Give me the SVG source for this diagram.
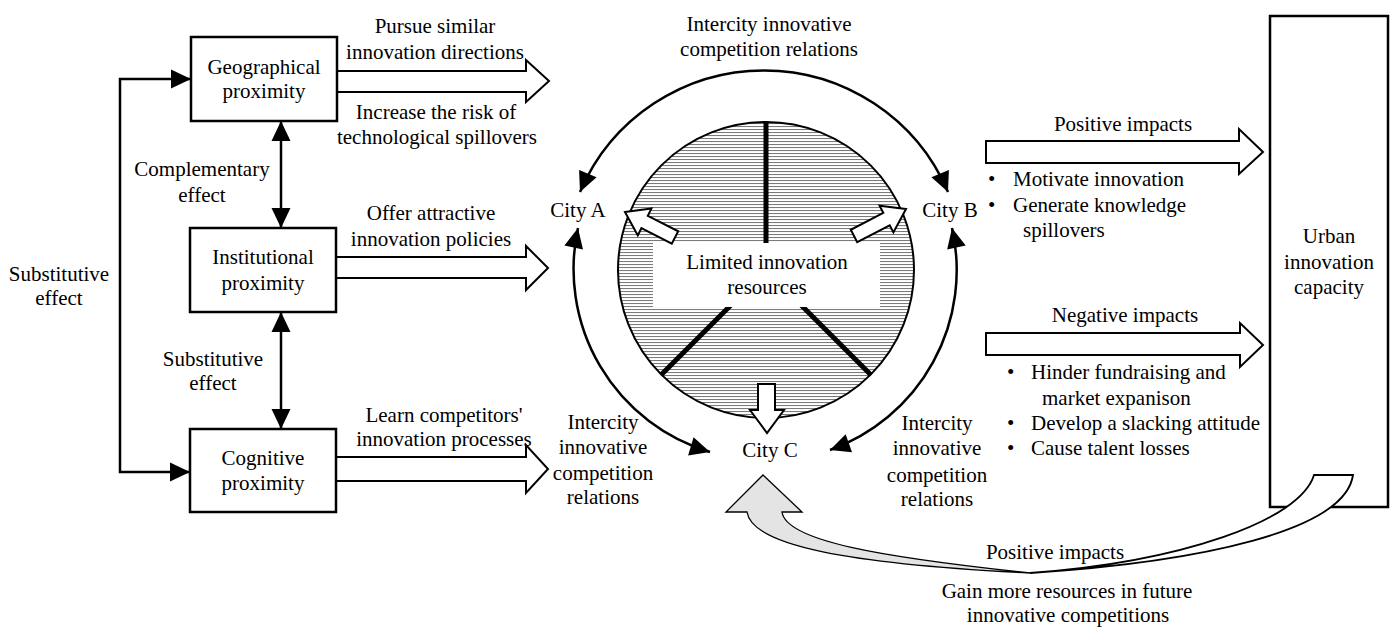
<svg xmlns="http://www.w3.org/2000/svg" width="1394" height="630" viewBox="0 0 1394 630">
  <style>
    text { font-family: "Liberation Serif", "Times New Roman", serif; font-size: 21px; fill: #000; }
    .c { text-anchor: middle; }
    .box { fill: #fff; stroke: #000; stroke-width: 2.5; }
    .hollow { fill: #fff; stroke: #000; stroke-width: 2; stroke-linejoin: miter; }
    .line { fill: none; stroke: #000; stroke-width: 2.5; }
    .arc { fill: none; stroke: #000; stroke-width: 2.5; marker-start: url(#head); marker-end: url(#head); }
    .divider { stroke: #000; stroke-width: 5; }
  </style>
  <defs>
    <marker id="head" markerUnits="userSpaceOnUse" viewBox="-21 -11 22 22" markerWidth="22" markerHeight="22" refX="0" refY="0" orient="auto-start-reverse">
      <path d="M0,0 L-20,-9.5 L-20,9.5 Z" fill="#000"/>
    </marker>
    <pattern id="hatch" width="6" height="3" patternUnits="userSpaceOnUse">
      <rect width="6" height="3" fill="#fff"/>
      <line x1="0" y1="0.5" x2="6" y2="0.5" stroke="#7a7a7a" stroke-width="1.1"/>
    </pattern>
  </defs>

  <rect width="1394" height="630" fill="#fff"/>

  <!-- connectors -->
  <g id="connectors">
    <!-- substitutive loop on the left -->
    <path class="line" d="M191,79 H120 V472 H190" marker-start="url(#head)" marker-end="url(#head)"/>
    <!-- proximity links -->
    <line class="line" x1="281" y1="121" x2="281" y2="228" marker-start="url(#head)" marker-end="url(#head)"/>
    <line class="line" x1="281" y1="312" x2="281" y2="429" marker-start="url(#head)" marker-end="url(#head)"/>

    <!-- hollow effect arrows from the proximity boxes -->
    <polygon class="hollow" points="337,71 526,71 526,60 549,81 526,102 526,92 337,92"/>
    <polygon class="hollow" points="336,257 526,257 526,246 548,268 526,290 526,278 336,278"/>
    <polygon class="hollow" points="336,457 526,457 526,445 548,469 526,493 526,481 336,481"/>

    <!-- competition arcs between cities -->
    <path class="arc" d="M580,192 A200,200 0 0 1 948,192"/>
    <path class="arc" d="M578,228 A191,191 0 0 0 710,452"/>
    <path class="arc" d="M952,228 A191,191 0 0 1 830,450"/>

    <!-- impact arrows to urban capacity -->
    <polygon class="hollow" points="986,141 1239,141 1239,129 1263,152 1239,174 1239,163 986,163"/>
    <polygon class="hollow" points="986,333 1240,333 1240,323 1263,345 1240,367 1240,355 986,355"/>

    <!-- feedback ribbon back to city C (grey half with arrowhead) -->
    <path d="M763,475 L802,512 L782,512 C786,541 880,557 1030,573 C850,564 752,546 747,512 L726,512 Z" fill="#e4e4e4" stroke="#000" stroke-width="1.3" stroke-linejoin="miter"/>
  </g>

  <!-- proximity nodes -->
  <g id="geographical">
    <rect class="box" x="191" y="37" width="146" height="84"/>
    <text class="c" x="264" y="74">Geographical</text>
    <text class="c" x="264" y="98">proximity</text>
  </g>
  <g id="institutional">
    <rect class="box" x="190" y="228" width="146" height="84"/>
    <text class="c" x="263" y="264">Institutional</text>
    <text class="c" x="263" y="290">proximity</text>
  </g>
  <g id="cognitive">
    <rect class="box" x="190" y="429" width="146" height="83"/>
    <text class="c" x="263" y="465">Cognitive</text>
    <text class="c" x="263" y="490">proximity</text>
  </g>

  <!-- shared pool of resources -->
  <g id="resources">
    <circle cx="766" cy="270" r="148" fill="url(#hatch)" stroke="#000" stroke-width="2"/>
    <line class="divider" x1="766" y1="122" x2="766" y2="270"/>
    <line class="divider" x1="766" y1="270" x2="661" y2="375"/>
    <line class="divider" x1="766" y1="270" x2="871" y2="375"/>
    <rect x="653" y="243" width="227" height="64" fill="#fff"/>
    <text class="c" x="767" y="269">Limited innovation</text>
    <text class="c" x="767" y="294">resources</text>
    <polygon class="hollow" stroke-width="1.6" points="625,212 651.4,208.6 647.8,215.8 678.2,231.3 671.8,243.7 641.4,228.2 637.8,235.4"/>
    <polygon class="hollow" stroke-width="1.6" points="906,209 879.6,205.8 883.3,212.9 850.8,229.8 857.2,242.2 889.7,225.3 893.4,232.4"/>
    <polygon class="hollow" stroke-width="1.6" points="758,384 775,384 775,410 784,410 767,433 750,410 758,410"/>
  </g>

  <g id="city-a"><text class="c" x="578" y="217">City A</text></g>
  <g id="city-b"><text class="c" x="950" y="217">City B</text></g>
  <g id="city-c"><text class="c" x="770" y="457">City C</text></g>

  <g id="urban-capacity">
    <rect x="1270" y="16" width="118" height="491" fill="none" stroke="#000" stroke-width="2.5"/>
    <text class="c" x="1329" y="243">Urban</text>
    <text class="c" x="1329" y="269">innovation</text>
    <text class="c" x="1329" y="294">capacity</text>
  </g>

  <!-- white half of the ribbon, leaving the capacity box in front of its edge -->
  <path d="M1030,573 C1180,562 1300,521 1314,475 L1353,475 C1345,531 1200,562 1030,573 Z" fill="#fff" stroke="#000" stroke-width="1.8"/>

  <!-- labels -->
  <g id="labels">
    <text class="c" x="59" y="281">Substitutive</text>
    <text class="c" x="59" y="305">effect</text>
    <text class="c" x="202" y="176">Complementary</text>
    <text class="c" x="202" y="202">effect</text>
    <text class="c" x="213" y="366">Substitutive</text>
    <text class="c" x="213" y="390">effect</text>

    <text class="c" x="435" y="33">Pursue similar</text>
    <text class="c" x="435" y="59">innovation directions</text>
    <text class="c" x="436" y="119">Increase the risk of</text>
    <text class="c" x="437" y="144">technological spillovers</text>
    <text class="c" x="431" y="220">Offer attractive</text>
    <text class="c" x="431" y="246">innovation policies</text>
    <text class="c" x="444" y="422">Learn competitors'</text>
    <text class="c" x="444" y="446">innovation processes</text>

    <text class="c" x="769" y="31">Intercity innovative</text>
    <text class="c" x="769" y="56">competition relations</text>
    <text class="c" x="603" y="429">Intercity</text>
    <text class="c" x="603" y="454">innovative</text>
    <text class="c" x="603" y="480">competition</text>
    <text class="c" x="603" y="504">relations</text>
    <text class="c" x="937" y="430">Intercity</text>
    <text class="c" x="937" y="455">innovative</text>
    <text class="c" x="937" y="482">competition</text>
    <text class="c" x="937" y="506">relations</text>

    <text class="c" x="1123" y="131">Positive impacts</text>
    <text x="988" y="186">•</text>
    <text x="1013" y="186">Motivate innovation</text>
    <text x="988" y="212">•</text>
    <text x="1013" y="212">Generate knowledge</text>
    <text x="1023" y="237">spillovers</text>

    <text class="c" x="1125" y="322">Negative impacts</text>
    <text x="1007" y="379">•</text>
    <text x="1031" y="379">Hinder fundraising and</text>
    <text x="1042" y="405">market expanison</text>
    <text x="1007" y="430">•</text>
    <text x="1031" y="430">Develop a slacking attitude</text>
    <text x="1007" y="455">•</text>
    <text x="1031" y="455">Cause talent losses</text>

    <text class="c" x="1055" y="559">Positive impacts</text>
    <text class="c" x="1067" y="598">Gain more resources in future</text>
    <text class="c" x="1068" y="622">innovative competitions</text>
  </g>
</svg>
